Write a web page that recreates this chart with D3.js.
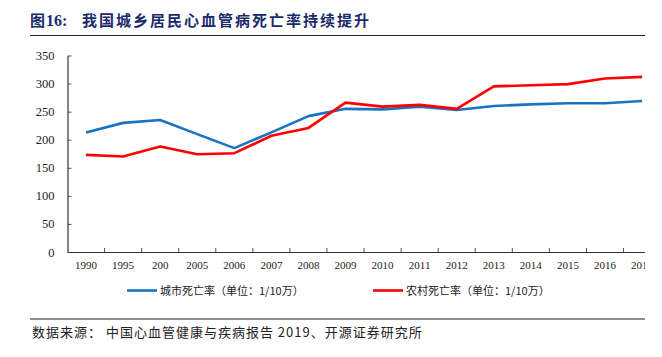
<!DOCTYPE html>
<html><head><meta charset="utf-8">
<script src="https://cdn.jsdelivr.net/npm/d3@7"></script>
<style>
html,body{margin:0;padding:0;background:#fff;}
svg{display:block;}
</style></head>
<body>
<script>
const years = ["1990","1995","200","2005","2006","2007","2008","2009","2010","2011","2012","2013","2014","2015","2016","2017"];
const urban = [213, 230, 235, 210, 185, 213, 242, 255, 254, 259, 253, 260, 263, 265, 265, 269];
const rural = [173, 170, 188, 174, 176, 207, 221, 266, 259, 262, 255, 295, 297, 299, 309, 312];
const yTicks = [0, 50, 100, 150, 200, 250, 300, 350];
const seriesNames = ["城市死亡率（单位：1/10万）", "农村死亡率（单位：1/10万）"];
const seriesColors = ["#1a73c2", "#ff0000"];

const W = 662, H = 357;
const svg = d3.select("body").append("svg").attr("width", W).attr("height", H);
svg.append("rect").attr("width", W).attr("height", H).attr("fill", "#fff");

const clipR = 645;
svg.append("clipPath").attr("id", "clip").append("rect")
  .attr("x", 0).attr("y", 0).attr("width", clipR).attr("height", H);

// Title
const title = svg.append("text").attr("x", 30).attr("y", 26)
  .attr("fill", "#1b2a6b").attr("font-weight", "bold")
  .attr("font-family", "'Noto Sans CJK SC', sans-serif").attr("font-size", 15);
title.append("tspan").text("图").attr("letter-spacing", 1);
title.append("tspan").text("16:").attr("font-family", "'Liberation Serif', serif").attr("font-size", 16);
title.append("tspan").text("我国城乡居民心血管病死亡率持续提升").attr("x", 82).attr("letter-spacing", 2);
svg.append("line").attr("x1", 30).attr("x2", clipR).attr("y1", 35.5).attr("y2", 35.5)
  .attr("stroke", "#222").attr("stroke-width", 1.2);

// Scales
const x = d3.scaleBand().domain(years).range([67.5, 660.6]);
const y = d3.scaleLinear().domain([0, 350]).range([252, 55.5]);

const g = svg.append("g").attr("clip-path", "url(#clip)");

// Y axis
const yAxis = g.append("g").attr("transform", "translate(67.5,0)")
  .call(d3.axisLeft(y).tickValues(yTicks).tickSizeInner(-4).tickSizeOuter(0).tickPadding(13));
yAxis.select(".domain").attr("stroke", "#333").attr("stroke-width", 1.2);
yAxis.selectAll(".tick line").attr("stroke", "#555");
yAxis.selectAll("text").attr("font-family", "'Liberation Serif', serif").attr("font-size", 12.5).attr("fill", "#222");

// X axis
const xAxis = g.append("g").attr("transform", "translate(0,252)")
  .call(d3.axisBottom(x).tickSizeInner(0).tickSizeOuter(0).tickPadding(9));
xAxis.select(".domain").attr("stroke", "#333").attr("stroke-width", 1.2);
xAxis.selectAll("text").attr("font-family", "'Liberation Serif', serif").attr("font-size", 11).attr("fill", "#222");
// band boundary ticks
g.append("g").selectAll("line").data(years)
  .join("line")
  .attr("x1", (d, i) => x.range()[0] + (i + 1) * x.bandwidth())
  .attr("x2", (d, i) => x.range()[0] + (i + 1) * x.bandwidth())
  .attr("y1", 252).attr("y2", 248)
  .attr("stroke", "#555");

// Lines
const line = d3.line().x((d, i) => x(years[i]) + x.bandwidth() / 2).y(d => y(d));
[urban, rural].forEach((s, k) => {
  g.append("path").datum(s).attr("d", line).attr("fill", "none")
    .attr("stroke", seriesColors[k]).attr("stroke-width", 2.6).attr("stroke-linejoin", "round");
});

// Legend
const legX = [127, 373];
seriesNames.forEach((n, k) => {
  svg.append("line").attr("x1", legX[k]).attr("x2", legX[k] + 30).attr("y1", 290.5).attr("y2", 290.5)
    .attr("stroke", seriesColors[k]).attr("stroke-width", 2.6);
  svg.append("text").attr("x", legX[k] + 33).attr("y", 294.5)
    .attr("font-family", "'Noto Sans CJK SC', sans-serif").attr("font-size", 11).attr("fill", "#222")
    .text(n);
});

// Footer
svg.append("line").attr("x1", 30).attr("x2", clipR).attr("y1", 319).attr("y2", 319)
  .attr("stroke", "#222").attr("stroke-width", 1.2);
svg.append("text").attr("x", 32).attr("y", 336.5)
  .attr("font-family", "'Noto Sans CJK SC', sans-serif").attr("font-size", 13).attr("fill", "#222")
  .attr("letter-spacing", 1)
  .text("数据来源： 中国心血管健康与疾病报告 2019、开源证券研究所");
</script>
</body></html>
